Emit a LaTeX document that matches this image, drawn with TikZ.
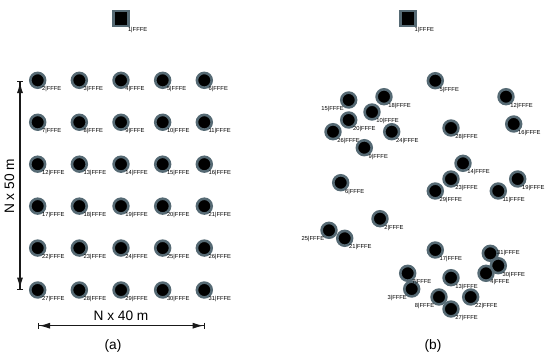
\documentclass[tikz,border=0pt]{standalone}
\usepackage{fontspec}
\setmainfont{Liberation Sans}
\usetikzlibrary{positioning,arrows.meta}
\definecolor{Canel}{RGB}{86,106,116}
\definecolor{Cseta}{RGB}{25,25,25}

\begin{document}
\begin{tikzpicture}[x=1pt, y=-1pt,
    sensor/.style={circle, fill=black, draw=Canel, line width=2.6pt,
      minimum size=14.8pt, inner sep=0pt},
    sorvedouro/.style={rectangle, fill=black, draw=Canel, line width=2.6pt,
      minimum size=15pt, inner sep=0pt},
    rot/.style={font=\fontsize{5.8}{6}\selectfont, inner sep=0pt},
    rotd/.style={rot, xshift=-2pt},
    rote/.style={rot, xshift=1.5pt},
    rotulo/.style={font=\fontsize{13.7}{16}\selectfont},
    cota/.style={Cseta, line width=1.3pt,
      {Bar[width=6pt]Latex[length=11pt,width=6pt]}-{Latex[length=11pt,width=6pt]Bar[width=6pt]}}]
  \useasboundingbox (0,0) rectangle (550,357);

  % (a) grade regular
  \node[sorvedouro, label={[rotd]-45:1|FFFE}] (sa) at (121,18.3) {};
  \foreach \r in {0,...,5} {
    \foreach \c in {0,...,4} {
      \pgfmathtruncatemacro{\n}{2+5*\r+\c}
      \node[sensor, label={[rotd]-45:\n|FFFE}] (a\n) at (37.7+41.65*\c, 80.3+41.94*\r) {};
    }
  }
  % cotas
  \coordinate (ytopo) at (20,80.7);
  \coordinate (ybase) at (20,290);
  \draw[cota] (ytopo) -- (ybase);
  \node[rotulo, rotate=90] (ny) at (9.5,186.5) {N x 50 m};
  \coordinate (xesq) at (37.7,325.7);
  \coordinate (xdir) at (205,325.7);
  \draw[cota] (xesq) -- (xdir);
  \node[rotulo] (nx) at (121,316.2) {N x 40 m};
  \node[rotulo] (la) at (113,345.7) {(a)};

  % (b) posicoes aleatorias
  \node[sorvedouro, label={[rotd]-45:1|FFFE}] (sb) at (407.7,18.3) {};
  \foreach \n/\x/\y in {15/348.7/100, 25/329/230.3, 3/411.7/289, 8/439/297}
    \node[sensor, label={[rote]-135:\n|FFFE}] (b\n) at (\x,\y) {};
  \foreach \n/\x/\y in {5/435.3/80.7, 18/384/96.7, 12/506/96.7, 10/372/112,
      20/348.7/120, 26/333/131.7, 24/391.7/131.7, 28/451/128, 16/513.7/124,
      9/364.3/147.7, 14/463/163.3, 23/451/179, 19/517.7/179, 29/435.3/191,
      11/498.3/191, 6/340.7/182.7, 2/380/218.7, 21/344.7/238.3, 17/435.3/250,
      30/498.3/265.7, 7/407.7/273.3, 4/486/273.3, 13/451/277.7,
      22/470.7/297, 27/451/309}
    \node[sensor, label={[rotd]-45:\n|FFFE}] (b\n) at (\x,\y) {};
  \node[sensor, label={[rotd]0:31|FFFE}] (b31) at (490.3,253.3) {};
  \node[rotulo] (lb) at (433,345.7) {(b)};
\end{tikzpicture}
\end{document}
